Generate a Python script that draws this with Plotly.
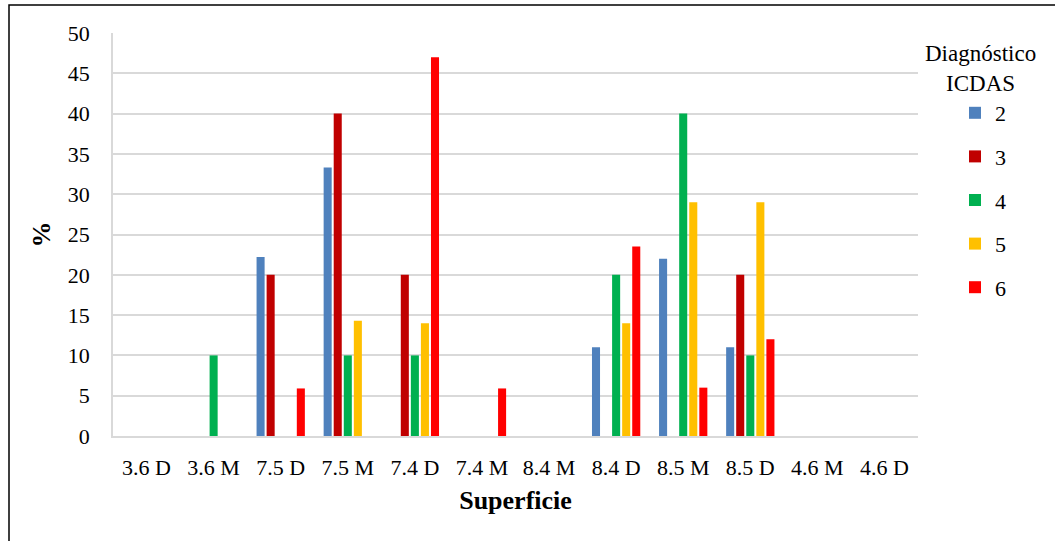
import plotly.graph_objects as go

categories = ["3.6 D", "3.6 M", "7.5 D", "7.5 M", "7.4 D", "7.4 M",
              "8.4 M", "8.4 D", "8.5 M", "8.5 D", "4.6 M", "4.6 D"]
series_names = ["2", "3", "4", "5", "6"]
vals_2 = [0, 0, 22.2, 33.3, 0, 0, 0, 11.0, 22.0, 11.0, 0, 0]
vals_3 = [0, 0, 20.0, 40.0, 20.0, 0, 0, 0, 0, 20.0, 0, 0]
vals_4 = [0, 10.0, 0, 10.0, 10.0, 0, 0, 20.0, 40.0, 10.0, 0, 0]
vals_5 = [0, 0, 0, 14.3, 14.0, 0, 0, 14.0, 29.0, 29.0, 0, 0]
vals_6 = [0, 0, 5.9, 0, 47.0, 5.9, 0, 23.5, 6.0, 12.0, 0, 0]
colors = ["#4F81BD", "#C00000", "#00B050", "#FFC000", "#FF0000"]

series = [vals_2, vals_3, vals_4, vals_5, vals_6]

FONT = "Liberation Serif"

fig = go.Figure()
for name, vals, col in zip(series_names, series, colors):
    fig.add_trace(go.Bar(
        x=categories, y=vals, name=name, legendgroup=name,
        marker=dict(color=col, line=dict(width=0)),
    ))

L, R, T, B = 113, 137, 33, 105
W, H = 1055, 541
pw = W - L - R
ph = H - T - B

def px_x(p):
    return (p - L) / pw

def px_y(p):
    return (T + ph - p) / ph

fig.update_layout(
    width=W, height=H,
    margin=dict(l=L, r=R, t=T, b=B, autoexpand=False),
    paper_bgcolor="white", plot_bgcolor="white",
    font=dict(family=FONT, size=22, color="black"),
    barmode="group", bargap=0.25, bargroupgap=0.2,
    showlegend=True,
    legend=dict(
        x=px_x(955), xanchor="left", y=px_y(92), yanchor="top",
        font=dict(family=FONT, size=22),
        tracegroupgap=12, itemwidth=30,
        bgcolor="rgba(0,0,0,0)",
    ),
    xaxis=dict(
        title=dict(text="<b>Superficie</b>", font=dict(family=FONT, size=26), standoff=12),
        showline=True, linecolor="#D9D9D9", linewidth=1.5,
        showgrid=False, ticks="", tickfont=dict(family=FONT, size=22),
        ticklabelstandoff=11,
    ),
    yaxis=dict(
        title=dict(text="<b>%</b>", font=dict(family=FONT, size=26), standoff=10),
        range=[0, 50], dtick=5,
        showgrid=True, gridcolor="#D9D9D9", gridwidth=1.5,
        showline=True, linecolor="#D9D9D9", linewidth=1.5,
        zeroline=False, ticks="", tickfont=dict(family=FONT, size=22),
        ticklabelstandoff=17,
    ),
    annotations=[dict(
        text="Diagnóstico<br>ICDAS", xref="paper", yref="paper",
        x=px_x(980), y=px_y(39), xanchor="center", yanchor="top",
        showarrow=False, align="center",
        font=dict(family=FONT, size=23),
    )],
    shapes=[dict(
        type="rect", xref="paper", yref="paper",
        x0=px_x(9), x1=px_x(W + 10),
        y0=px_y(H + 10), y1=px_y(5),
        line=dict(color="black", width=1.5), fillcolor="rgba(0,0,0,0)",
        layer="below",
    )],
)

fig.write_html("out.html")
